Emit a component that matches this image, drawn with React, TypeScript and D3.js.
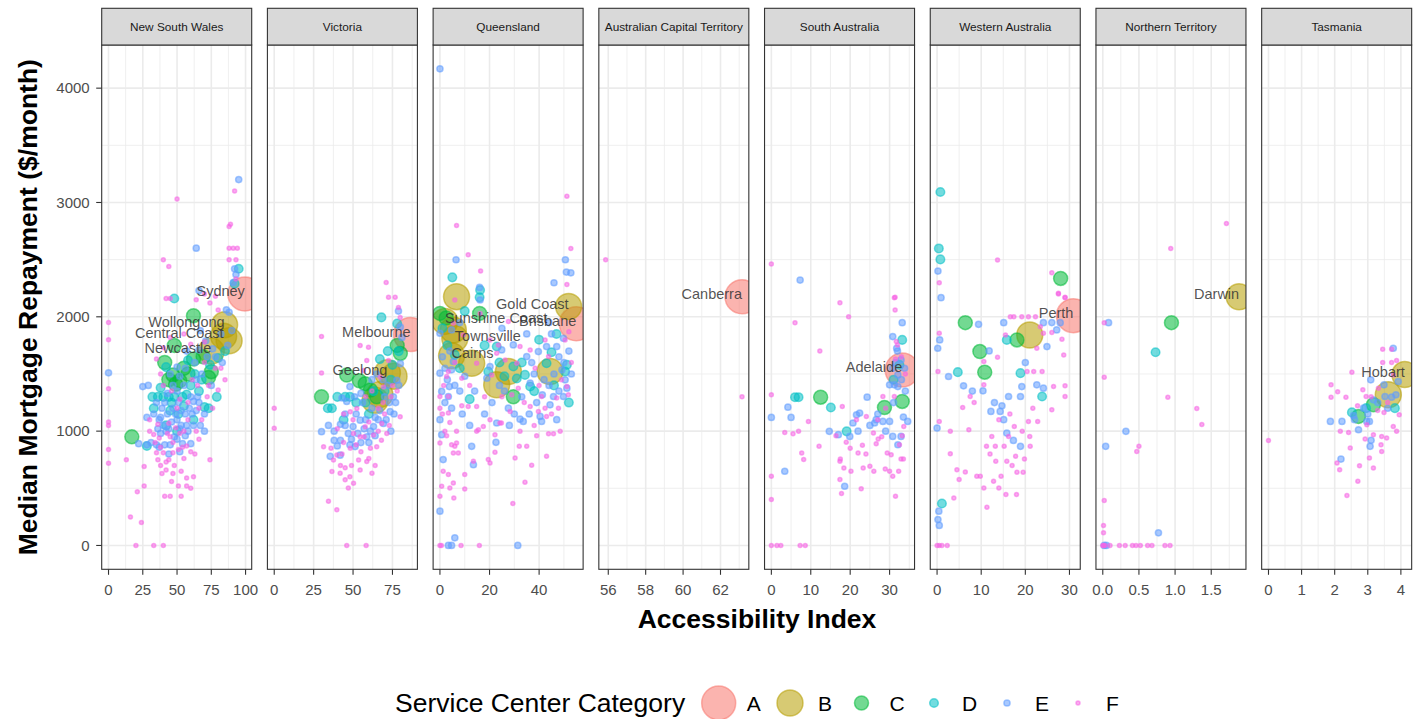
import React from "react";
import * as d3 from "d3";

// ---------- data ----------
const STATES = [
  "New South Wales",
  "Victoria",
  "Queensland",
  "Australian Capital Territory",
  "South Australia",
  "Western Australia",
  "Northern Territory",
  "Tasmania",
];
const CATEGORIES = ["A", "B", "C", "D", "E", "F"];
const Y_TICKS = [0, 1000, 2000, 3000, 4000];
const X_TICKS = [
  [0, 25, 50, 75, 100],
  [0, 25, 50, 75],
  [0, 20, 40],
  [56, 58, 60, 62],
  [0, 10, 20, 30],
  [0, 10, 20, 30],
  [0, 0.5, 1, 1.5],
  [0, 1, 2, 3, 4],
];
const X_TICK_LABELS = [
  ["0", "25", "50", "75", "100"],
  ["0", "25", "50", "75"],
  ["0", "20", "40"],
  ["56", "58", "60", "62"],
  ["0", "10", "20", "30"],
  ["0", "10", "20", "30"],
  ["0.0", "0.5", "1.0", "1.5"],
  ["0", "1", "2", "3", "4"],
];

// flat [x, y, x, y, ...] per category
const nsw = {
  A: [99.5, 2200],
  B: [84.7, 1930, 84, 1830, 75, 1700, 88, 1790],
  C: [17, 950, 41, 1600, 44, 1450, 47, 1490, 48, 1750, 52, 1440, 55, 1550, 58, 1500, 62, 2010, 62, 1630, 69, 1650, 73, 1470, 75, 1520, 49, 1410],
  D: [48, 2160, 92, 2290, 95, 2420, 32, 1300, 36, 1300, 40, 1300, 44, 1300, 48, 1300, 54, 1300, 79, 1300, 70, 1210, 73, 1200, 60, 1400, 66, 1350, 80, 1640, 85, 1700, 28, 870, 55, 1220, 45, 1180, 62, 1100, 42, 1560, 58, 1620, 33, 1200, 38, 1380, 46, 1250, 51, 1150, 57, 1320, 63, 1500, 68, 1450, 74, 1580, 42, 1050, 50, 1000],
  E: [95, 3200, 64, 2600, 92, 2420, 93, 2370, 91, 2300, 66, 2230, 86, 2060, 88, 2040, 0, 1510, 25, 1390, 29, 1400, 28, 1120, 37, 1100, 40, 1050, 43, 1150, 47, 1200, 50, 1100, 53, 1050, 56, 1150, 58, 1000, 62, 1050, 66, 1250, 70, 1150, 45, 1500, 50, 1560, 57, 1700, 66, 1710, 71, 1790, 67, 1880, 22, 890, 28, 880, 35, 880, 41, 880, 45, 880, 54, 890, 60, 890, 38, 980, 42, 1000, 48, 950, 52, 1020, 62, 1260, 75, 1400, 78, 1650, 83, 1600, 87, 1750, 90, 1880, 35, 1250, 39, 1200, 50, 1350, 55, 1400, 60, 1300, 64, 1450, 68, 1500, 33, 1150, 36, 1020, 38, 1120, 41, 1250, 44, 1020, 46, 1080, 49, 1150, 51, 1250, 53, 1180, 57, 1050, 59, 1200, 61, 1150, 64, 1180, 67, 1050, 70, 1000, 43, 1330, 47, 1400, 52, 1480, 56, 1550, 63, 1600, 72, 1650, 76, 1720, 82, 1850, 31, 900, 37, 860, 50, 930, 56, 960, 44, 800, 52, 820, 65, 1300],
  F: [0, 1950, 0, 1800, 0, 1370, 0, 1080, 0, 1050, 0, 840, 0, 720, 16, 250, 21, 470, 24, 200, 20, 0, 33, 0, 40, 0, 13, 750, 26, 690, 26, 520, 50, 3030, 92, 3100, 88, 2790, 89, 2810, 40, 2500, 44, 2440, 88, 2600, 91, 2600, 94, 2600, 88, 2500, 93, 2500, 93, 2330, 42, 2160, 45, 2160, 64, 2150, 70, 2200, 74, 2120, 78, 2180, 80, 2060, 35, 1630, 40, 1730, 45, 1820, 55, 1850, 60, 1760, 70, 1780, 33, 970, 37, 940, 45, 950, 52, 980, 66, 930, 35, 810, 40, 810, 42, 730, 36, 750, 47, 810, 51, 840, 54, 860, 44, 750, 39, 630, 42, 660, 47, 630, 51, 520, 57, 590, 62, 600, 74, 750, 57, 520, 41, 430, 45, 430, 53, 430, 60, 500, 30, 1000, 36, 1060, 44, 1070, 50, 1200, 55, 1000, 58, 1100, 64, 1000, 68, 1100, 72, 1300, 76, 1200, 80, 1360, 85, 1450, 78, 1550, 70, 1600, 46, 1350, 52, 1280, 58, 1250, 65, 1400, 40, 1400, 38, 1500, 30, 1100, 47, 900, 57, 870, 63, 800, 48, 700, 53, 650, 34, 900, 38, 860, 43, 980, 49, 1030, 55, 760, 60, 820, 46, 560, 38, 700, 66, 1200, 61, 1450, 73, 1400, 82, 1550],
};

const vic = {
  A: [86.5, 1845],
  B: [71.8, 1510, 76, 1480, 67, 1320, 64, 1270],
  C: [30, 1300, 46, 1490, 57.7, 1415, 61, 1360, 65, 1300, 80, 1680, 78, 1750, 54, 1440],
  D: [68, 1995, 36.6, 1200, 44, 1100, 78, 1940, 67, 1630, 48, 1300, 72, 1700, 40, 1300, 52, 1250, 60, 1150, 75, 1580, 34, 1200, 58, 1250, 63, 1350, 70, 1350, 74, 1450, 79, 1700, 45, 1300],
  E: [30, 995, 34.4, 1050, 35.5, 780, 41.8, 790, 48, 880, 51.3, 865, 48, 1390, 54.5, 1096, 58.7, 950, 63, 1040, 69.3, 1067, 73.5, 1170, 75.6, 1300, 77.8, 1445, 80, 1590, 81, 1820, 80, 1910, 78.8, 2050, 43, 1290, 46, 1260, 55, 1330, 62, 1200, 66, 1100, 70, 1300, 38, 1000, 42, 920, 57, 1020, 60, 900, 45, 1050, 52, 1150, 64, 960, 72, 1400, 77, 1250, 74, 1000, 56, 1250, 40, 870, 47, 980, 50, 1040, 53, 980, 58, 1100, 61, 1000, 64, 1120, 67, 1180, 71, 1100, 76, 1150, 79, 1400, 73, 1250, 69, 1450, 65, 1500, 62, 1450, 51, 1300, 45, 1150, 49, 930, 55, 900, 42, 1060, 38, 920],
  F: [0, 1200, 0, 1025, 30, 1827, 30, 1508, 31.3, 864, 34.4, 386, 39.7, 313, 46, 0, 58.3, 0, 36.6, 647, 41.8, 632, 45, 574, 47, 502, 50.3, 545, 54.5, 661, 53.5, 748, 58.7, 734, 62, 632, 37.6, 748, 39.7, 792, 48.2, 850, 50.3, 980, 54.5, 951, 57.7, 1038, 63, 966, 65, 864, 68.2, 1067, 71.4, 980, 58.7, 1618, 59.8, 1734, 54.5, 1749, 71, 2300, 72.5, 2170, 76.7, 2170, 78.8, 2082, 79.9, 1995, 72.5, 1618, 52.4, 1198, 48.2, 1169, 79.9, 1125, 67.2, 1473, 69.3, 1386, 56.6, 1531, 44, 1150, 50, 1100, 60, 1080, 66, 1200, 70, 1150, 62, 1350, 75, 1400, 78, 1350, 42, 700, 48, 600, 55, 820, 60, 760, 64, 700, 44, 900, 68, 920, 73, 1050, 36, 850, 40, 1020, 52, 880, 57, 950, 61, 850, 66, 1000, 69, 1250, 74, 1300, 49, 700, 45, 680, 43, 800, 58, 1300],
};

const qld = {
  A: [55, 1940],
  B: [51.9, 2090, 6.7, 2176, 2, 1960, 6, 1810, 4.7, 1660, 12.8, 1594, 27.6, 1521, 22.9, 1405, 44.4, 1521, 5.4, 1885],
  C: [0, 2030, 2.5, 1990, 16, 2030, 29.6, 1300],
  D: [5, 2345, 16.2, 2234, 16, 2170, 22.9, 1740, 19.5, 1521, 29.6, 1565, 36.4, 1390, 34.3, 1492, 50.5, 1521, 51.2, 1580, 43, 1594, 6, 1667, 26, 1480, 31, 1460, 10, 2050, 1, 1900, 12, 1280, 45, 1690, 40, 1800, 47, 1850, 3, 1750, 8, 1550, 18, 1750, 24, 1600, 33, 1600, 38, 1350, 46, 1400, 52, 1250],
  E: [0, 4169, 6.5, 2499, 50.6, 2499, 51, 2391, 52.8, 2385, 46, 2298, 16, 2257, 0, 300, 6, 67, 3.4, 0, 4.7, 0, 31.4, 0, 0, 1100, 0.7, 969, 1.3, 751, 12.8, 867, 13.5, 707, 22.6, 902, 22.9, 1071, 27.6, 1201, 32.3, 1105, 33.6, 1085, 40.4, 1129, 41, 1085, 47.1, 1100, 49.8, 1303, 45.8, 1303, 44.4, 1230, 41.3, 1318, 51.2, 1376, 3.4, 1303, 4.7, 1201, 3.8, 1390, 0.7, 1347, 18.9, 1463, 20.2, 1565, 24.9, 1710, 29.6, 1754, 39.7, 1696, 43, 1740, 47.1, 1740, 49.8, 1812, 49.2, 1536, 50.5, 1449, 36.4, 1420, 35, 1652, 4.7, 1536, 5.4, 1609, 0, 1507, 0, 1856, 4.7, 1885, 16.2, 2147, 2, 1250, 1, 1650, 3, 1450, 8, 1350, 10, 1480, 14, 1350, 26, 1350, 38, 1500, 44, 1400, 48, 1650, 52, 1700, 45, 1850, 35, 1850, 25, 1900, 8, 1950, 2, 1550, 4, 1700, 6, 1400, 9, 1150, 12, 1050, 18, 1150, 21, 1250, 24, 1400, 28, 1050, 30, 1150, 33, 1300, 36, 1150, 39, 1250, 42, 1450, 46, 1500, 48, 1350, 50, 1600, 53, 1500, 44, 1950, 37, 1600],
  F: [51.2, 3054, 6.7, 2798, 11.4, 2542, 52.8, 2598, 16.4, 2400, 51.2, 2283, 0, 0, 0.6, 0, 8.5, 0, 15.9, 0, 0, 430, 0.7, 518, 4, 503, 5.6, 416, 1.3, 649, 3.4, 620, 5.4, 547, 10, 620, 10, 495, 4.7, 881, 6, 867, 5.4, 809, 7.4, 809, 6.7, 896, 0, 896, 2.7, 960, 6.7, 998, 14.8, 998, 13.5, 736, 19.5, 751, 20.2, 721, 22.2, 815, 24.8, 1071, 30.3, 765, 29.4, 367, 34.3, 553, 37, 701, 35, 867, 32, 867, 32.3, 998, 39, 960, 43, 780, 43.8, 977, 45.8, 977, 48.5, 998, 36.4, 1216, 39.7, 1172, 42.4, 1201, 41, 1303, 43, 1129, 47.8, 1201, 47.1, 1289, 51.2, 1390, 51.8, 1318, 29, 1318, 31.6, 1376, 28.3, 1172, 24.2, 1071, 22.2, 969, 20.2, 1100, 17.5, 1041, 15.5, 1012, 11.4, 1216, 14.8, 1216, 8.8, 1222, 4, 1076, 3.4, 1158, 3.4, 1303, 0, 1303, 2.7, 1478, 3.4, 1521, 5.4, 1943, 6, 2147, 27.6, 1958, 32.3, 1740, 36.4, 1710, 38.4, 1550, 42.4, 1798, 43.8, 1652, 50.5, 1798, 52, 1870, 22.9, 1681, 14.8, 1594, 23.6, 1754, 16.2, 2030, 9.4, 1841, 20.2, 1798, 26.3, 1623, 31, 1594, 20.9, 1492, 8.8, 1463, 1, 1150, 2, 1000, 0, 1200, 1.5, 1400, 6, 1600, 12, 1400, 18, 1300, 25, 1300, 34, 1250, 45, 1150, 49, 1450, 53, 1600, 40, 1400, 38, 1050],
};

const act = {
  A: [63.15, 2175],
  B: [],
  C: [],
  D: [],
  E: [],
  F: [55.86, 2500, 63.15, 1300],
};

const sa = {
  A: [33.2, 1535],
  B: [],
  C: [12.5, 1297, 28.7, 1207, 33.2, 1260],
  D: [6, 1297, 6.9, 1297, 15.1, 1207, 33.2, 1798, 19.1, 998, 31, 1450, 32.5, 1580],
  E: [7.3, 2321, 0, 1120, 4.2, 1210, 5, 1120, 3.4, 649, 14.7, 998, 18.6, 518, 19.9, 954, 20.7, 1071, 21.6, 1143, 22.4, 1158, 24.3, 1297, 26.2, 1071, 26.6, 1100, 30, 1085, 30.8, 954, 32.9, 954, 32.1, 881, 33.5, 1123, 34.6, 1085, 30.8, 1827, 31.2, 1405, 30, 1405, 32.1, 1390, 33.2, 1949, 31.8, 1725, 32.9, 1623, 30.8, 1550, 32.1, 1492, 28.3, 1085, 17, 969, 27, 1150, 29, 1000, 31, 1250, 33, 1450, 34, 1350, 22, 1000, 25, 1050, 32, 1700, 33.8, 1550, 31.5, 1600],
  F: [0, 2461, 31.2, 2167, 0, 1318, 0, 605, 0, 401, 0, 0, 1.4, 0, 2.4, 0, 7.3, 0, 8.6, 0, 6, 1949, 12.3, 1702, 17.4, 2124, 19.6, 2001, 3.4, 989, 5.5, 977, 6.9, 998, 9.4, 1085, 12.1, 867, 7.7, 809, 8.2, 751, 18, 1216, 16.4, 960, 17.5, 756, 19, 902, 17.4, 736, 18.4, 678, 20.2, 649, 17.4, 576, 17.8, 454, 22, 809, 22.8, 497, 23.1, 876, 23.3, 678, 25, 692, 26, 649, 26.6, 890, 27.1, 931, 28.9, 669, 29.4, 809, 30, 649, 30.8, 605, 30.4, 794, 31.5, 431, 32.3, 649, 32.9, 756, 33.5, 756, 32.5, 881, 33.2, 960, 33.6, 1041, 31.2, 1303, 28.3, 1303, 31.4, 2170, 31.4, 2060, 31.7, 1783, 32, 1754, 31.5, 1632, 21.6, 1100, 24.1, 1129, 25.9, 983, 27, 1100, 29, 1200, 33, 1650, 34, 1500, 28, 950, 20, 850, 24, 800],
};

const wa = {
  A: [30.9, 2010],
  B: [21, 1841],
  C: [6.4, 1949, 9.7, 1696, 10.8, 1516, 18.1, 1798, 28, 2336],
  D: [0.75, 3092, 0.4, 2598, 0.75, 2502, 15.8, 1798, 18.9, 1507, 23.8, 1303, 4.7, 1516, 1.1, 367],
  E: [0.2, 2400, 0.9, 2167, 0.6, 1798, 0.15, 1725, 9.4, 1934, 15.1, 1949, 11.8, 1702, 6, 1396, 10.4, 1353, 2.6, 1478, 14.7, 1222, 14.3, 1172, 12.2, 1172, 15.1, 1100, 19.2, 1390, 18.9, 1303, 15.8, 983, 18.9, 867, 17.3, 919, 22.6, 1405, 24.1, 1376, 24.9, 1740, 27.1, 1885, 27.9, 1949, 16.2, 1303, 0, 1027, 0.4, 300, 0.2, 227, 0.5, 175, 24.1, 1949, 26, 1950, 20, 1600, 13, 1250, 8, 1350],
  F: [0.5, 2298, 13.7, 2496, 26, 2385, 27.5, 2205, 29, 2167, 0.5, 1856, 0.2, 1521, 0.5, 1085, 0, 0, 0.5, 0, 1.1, 0, 2.3, 0, 3, 998, 3, 803, 4.5, 663, 5, 576, 3.8, 416, 6.4, 643, 7.2, 1012, 9, 605, 9.8, 605, 10.6, 503, 11.2, 867, 11.3, 335, 12.4, 954, 13.2, 867, 12.8, 561, 14, 503, 14.5, 605, 13.3, 736, 15.8, 736, 15.2, 867, 15.6, 445, 16.2, 954, 17.5, 1041, 17.8, 780, 18.1, 640, 19.5, 640, 19.8, 756, 19.3, 998, 21, 954, 21.1, 867, 18, 445, 20.7, 1085, 22.8, 1085, 21.7, 1201, 26, 1187, 26.4, 1390, 29, 1396, 29, 1303, 28.7, 1667, 23.8, 1521, 21.9, 1521, 20.4, 1521, 10.6, 1405, 13.7, 1646, 15.5, 1841, 16.6, 2001, 17.4, 2001, 19.2, 2001, 20.7, 2001, 22.3, 2001, 23.4, 1914, 24.1, 1856, 22.6, 1725, 26, 1862, 28.3, 1804, 29, 2170, 27.5, 2199, 7.5, 1303, 8.4, 1251, 5.8, 1207, 10.6, 1609, 14, 1100, 16.5, 1150, 12, 800, 17, 700],
};

const nt = {
  A: [],
  B: [1.886, 2175],
  C: [0.95, 1949],
  D: [0.73, 1690],
  E: [0.08, 1949, 0.32, 998, 0.04, 867, 0.77, 111, 0.02, 0, 0.05, 0],
  F: [1.71, 2816, 0.94, 2598, 0.02, 1949, 0.02, 1472, 0.9, 1297, 1.3, 1199, 1.37, 1059, 0.5, 867, 0.47, 823, 0.02, 393, 0.01, 175, 0.01, 111, 0, 0, 0.01, 0, 0.03, 0, 0.1, 0, 0.23, 0, 0.31, 0, 0.41, 0, 0.46, 0, 0.52, 0, 0.62, 0, 0.68, 0, 0.86, 0, 0.93, 0],
};

const tas = {
  A: [],
  B: [4.12, 1495, 3.62, 1318],
  C: [2.72, 1129, 3.17, 1230],
  D: [2.52, 1164, 3.82, 1201, 2.95, 1201],
  E: [3.77, 1725, 3.09, 1449, 3.49, 1405, 3.92, 1434, 1.87, 1085, 2.22, 1085, 2.72, 1012, 3.07, 867, 3.1, 920, 2.19, 756, 2.97, 1085, 3.05, 1085, 3.17, 1274, 3.52, 1303, 3.72, 1297, 3.85, 1318, 2.57, 1135, 2.87, 1201, 3.3, 1250, 3.6, 1200, 3.0, 1150, 2.6, 1100],
  F: [0, 919, 3.45, 1716, 3.72, 1716, 3.72, 1600, 3.87, 1617, 3.45, 1600, 2.52, 1516, 1.89, 1405, 2.09, 1344, 1.89, 1297, 2.34, 1297, 2.85, 1361, 2.95, 1303, 3.32, 1376, 2.69, 1222, 2.97, 1056, 2.17, 998, 2.42, 989, 2.92, 931, 3.17, 969, 3.42, 954, 3.57, 940, 3.77, 1041, 3.87, 998, 3.95, 1143, 3.49, 1164, 2.47, 852, 3.05, 765, 3.17, 678, 3.42, 823, 2.75, 698, 2.07, 721, 2.15, 663, 2.7, 561, 2.37, 436, 3.4, 881, 3.77, 1492, 3.6, 1250, 3.3, 1180, 3.1, 1300],
};

const STATE_POINTS = [nsw, vic, qld, act, sa, wa, nt, tas];

const CITY_LABELS: [string, string, number, number][] = [
  ["New South Wales", "Sydney", 99.5, 2200],
  ["New South Wales", "Wollongong", 84.7, 1930],
  ["New South Wales", "Central Coast", 84, 1830],
  ["New South Wales", "Newcastle", 75, 1700],
  ["Victoria", "Melbourne", 86.5, 1845],
  ["Victoria", "Geelong", 71.8, 1510],
  ["Queensland", "Gold Coast", 51.9, 2090],
  ["Queensland", "Sunshine Coast", 2, 1960],
  ["Queensland", "Brisbane", 55, 1940],
  ["Queensland", "Townsville", 6, 1810],
  ["Queensland", "Cairns", 4.7, 1660],
  ["Australian Capital Territory", "Canberra", 63.15, 2175],
  ["South Australia", "Adelaide", 33.2, 1535],
  ["Western Australia", "Perth", 30.9, 2010],
  ["Northern Territory", "Darwin", 1.886, 2175],
  ["Tasmania", "Hobart", 4.12, 1495],
];

// ---------- styling ----------
const COLORS: Record<string, string> = {
  A: "#F8766D",
  B: "#B79F00",
  C: "#00BA38",
  D: "#00BFC4",
  E: "#619CFF",
  F: "#F564E3",
};
const RADII: Record<string, number> = { A: 17, B: 13, C: 7, D: 4.3, E: 3.1, F: 2 };
const FONT = "'Liberation Sans', Arial, Helvetica, sans-serif";

function pairs(flat: number[]) {
  const out: [number, number][] = [];
  for (let i = 0; i + 1 < flat.length; i += 2) out.push([flat[i], flat[i + 1]]);
  return out;
}

function expand(ext: [number, number]): [number, number] {
  const r = ext[1] - ext[0];
  return [ext[0] - 0.05 * r, ext[1] + 0.05 * r];
}

function minorBreaks(major: number[], dom: [number, number]) {
  const step = major[1] - major[0];
  const res: number[] = [];
  for (let v = major[0] - step / 2; v <= dom[1] + 1e-9; v += step) {
    if (v >= dom[0]) res.push(v);
  }
  return res;
}

function Dot({ cx, cy, c }: { cx: number; cy: number; c: string }) {
  return (
    <circle
      cx={cx}
      cy={cy}
      r={RADII[c]}
      fill={COLORS[c]}
      fillOpacity={0.55}
      stroke={COLORS[c]}
      strokeOpacity={0.55}
      strokeWidth={1.5}
    />
  );
}

export default function App() {
  const W = 1417;
  const H = 719;
  const panelTop = 45;
  const panelBottom = 569.3;
  const stripTop = 8.3;
  const left0 = 101.7;
  const pw = 150;
  const step = 165.71;

  const allY: number[] = [];
  STATE_POINTS.forEach((s: any) =>
    CATEGORIES.forEach((c) => pairs(s[c]).forEach((p) => allY.push(p[1])))
  );
  const yDom = expand(d3.extent(allY) as [number, number]);
  const y = d3.scaleLinear().domain(yDom).range([panelBottom, panelTop]);
  const yMinor = minorBreaks(Y_TICKS, yDom as [number, number]);

  const panels = STATES.map((name, i) => {
    const s: any = STATE_POINTS[i];
    const xs: number[] = [];
    CATEGORIES.forEach((c) => pairs(s[c]).forEach((p) => xs.push(p[0])));
    const xDom = expand(d3.extent(xs) as [number, number]);
    const left = left0 + i * step;
    const x = d3.scaleLinear().domain(xDom).range([left, left + pw]);
    return { name, i, s, x, xDom, left };
  });

  const stroke = "#333333";

  return (
    <svg
      width={W}
      height={H}
      style={{ position: "absolute", left: 0, top: 0, background: "#fff" }}
      fontFamily={FONT}
    >
      <rect x={0} y={0} width={W} height={H} fill="#fff" />
      <defs>
        {panels.map((p) => (
          <clipPath id={`clip${p.i}`} key={p.i}>
            <rect x={p.left} y={panelTop} width={pw} height={panelBottom - panelTop} />
          </clipPath>
        ))}
      </defs>

      {panels.map((p) => {
        const xMinor = minorBreaks(X_TICKS[p.i], p.xDom as [number, number]);
        return (
          <g key={p.i}>
            <rect x={p.left} y={panelTop} width={pw} height={panelBottom - panelTop} fill="#fff" />
            <g clipPath={`url(#clip${p.i})`}>
              {yMinor.map((v) => (
                <line key={"ym" + v} x1={p.left} x2={p.left + pw} y1={y(v)} y2={y(v)} stroke="#ebebeb" strokeWidth={0.8} />
              ))}
              {xMinor.map((v) => (
                <line key={"xm" + v} x1={p.x(v)} x2={p.x(v)} y1={panelTop} y2={panelBottom} stroke="#ebebeb" strokeWidth={0.8} />
              ))}
              {Y_TICKS.map((v) => (
                <line key={"y" + v} x1={p.left} x2={p.left + pw} y1={y(v)} y2={y(v)} stroke="#ebebeb" strokeWidth={1.6} />
              ))}
              {X_TICKS[p.i].map((v) => (
                <line key={"x" + v} x1={p.x(v)} x2={p.x(v)} y1={panelTop} y2={panelBottom} stroke="#ebebeb" strokeWidth={1.6} />
              ))}
              {CATEGORIES.map((c) =>
                pairs(p.s[c]).map((pt, k) => (
                  <Dot key={c + k} cx={p.x(pt[0])} cy={y(pt[1])} c={c} />
                ))
              )}
              {CITY_LABELS.filter((l) => l[0] === p.name).map((l) => {
                const mid = (p.xDom[0] + p.xDom[1]) / 2;
                const anchor = l[2] < mid ? "start" : "end";
                return (
                  <text
                    key={l[1]}
                    x={p.x(l[2])}
                    y={y(l[3]) - 3}
                    dominantBaseline="central"
                    textAnchor={anchor}
                    fontSize={14.5}
                    fill="#333"
                    fillOpacity={0.85}
                  >
                    {l[1]}
                  </text>
                );
              })}
            </g>
            <rect x={p.left} y={panelTop} width={pw} height={panelBottom - panelTop} fill="none" stroke={stroke} strokeWidth={1.1} />
            <rect x={p.left} y={stripTop} width={pw} height={panelTop - stripTop} fill="#d9d9d9" stroke={stroke} strokeWidth={1.1} />
            <text x={p.left + pw / 2} y={(stripTop + panelTop) / 2 + 4} textAnchor="middle" fontSize={11.8} fill="#1a1a1a">
              {p.name}
            </text>
            {X_TICKS[p.i].map((v, k) => (
              <g key={"xt" + v}>
                <line x1={p.x(v)} x2={p.x(v)} y1={panelBottom} y2={panelBottom + 5.5} stroke={stroke} strokeWidth={1.1} />
                <text x={p.x(v)} y={595} textAnchor="middle" fontSize={15} fill="#4d4d4d">
                  {X_TICK_LABELS[p.i][k]}
                </text>
              </g>
            ))}
          </g>
        );
      })}

      {Y_TICKS.map((v) => (
        <g key={"yt" + v}>
          <line x1={left0 - 5.5} x2={left0} y1={y(v)} y2={y(v)} stroke={stroke} strokeWidth={1.1} />
          <text x={left0 - 12} y={y(v) + 5.3} textAnchor="end" fontSize={15} fill="#4d4d4d">
            {v}
          </text>
        </g>
      ))}

      <text x={757} y={628} textAnchor="middle" fontSize={26.5} fontWeight="bold" fill="#000">
        Accessibility Index
      </text>
      <text
        transform={`translate(37, ${(panelTop + panelBottom) / 2}) rotate(-90)`}
        textAnchor="middle"
        fontSize={26.5}
        fontWeight="bold"
        fill="#000"
      >
        Median Mortgage Repayment ($/month)
      </text>

      <text x={395} y={712} fontSize={26.5} fill="#000">
        Service Center Category
      </text>
      {CATEGORIES.map((c, k) => {
        const cx = [718.7, 790, 861.5, 934, 1007, 1078][k];
        return (
          <g key={"lg" + c}>
            <Dot cx={cx} cy={703} c={c} />
            <text x={cx + 28} y={711} fontSize={21} fill="#000">
              {c}
            </text>
          </g>
        );
      })}
    </svg>
  );
}
